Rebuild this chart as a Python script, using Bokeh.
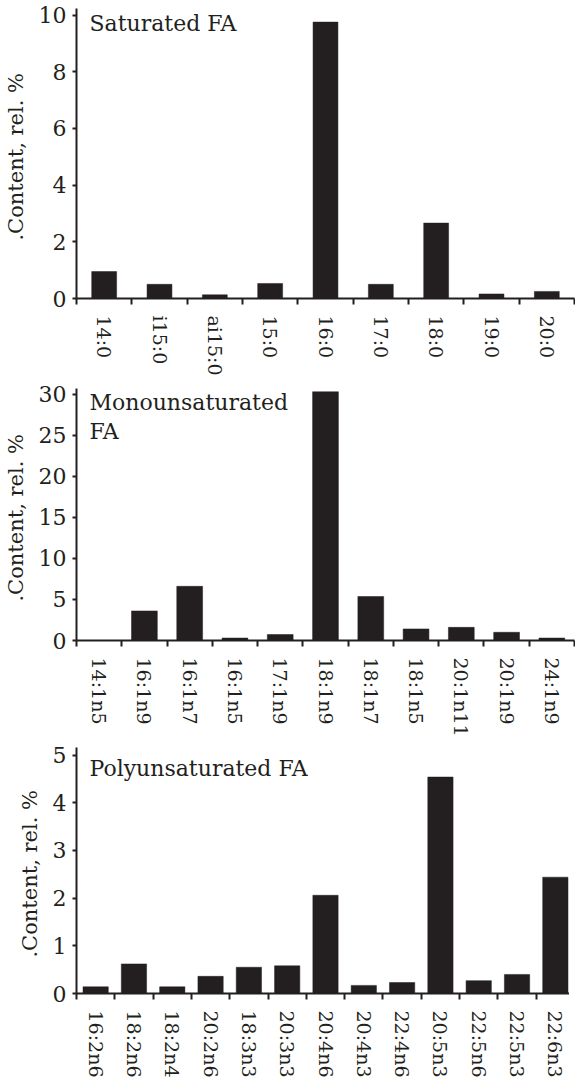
import numpy as np
from bokeh.plotting import figure
from bokeh.layouts import column
from bokeh.models import FixedTicker, Range1d, Label
from bokeh.embed import file_html
from bokeh.resources import INLINE

# ---- data ----
sat_names = ["14:0", "i15:0", "ai15:0", "15:0", "16:0", "17:0", "18:0", "19:0", "20:0"]
sat_vals = [0.95, 0.5, 0.13, 0.53, 9.75, 0.5, 2.66, 0.16, 0.25]
sat_ticks = [0, 2, 4, 6, 8, 10]

mono_names = ["14:1n5", "16:1n9", "16:1n7", "16:1n5", "17:1n9", "18:1n9", "18:1n7",
              "18:1n5", "20:1n11", "20:1n9", "24:1n9"]
mono_vals = [0.0, 3.6, 6.6, 0.3, 0.73, 30.3, 5.36, 1.41, 1.6, 1.0, 0.3]
mono_ticks = [0, 5, 10, 15, 20, 25, 30]

poly_names = ["16:2n6", "18:2n6", "18:2n4", "20:2n6", "18:3n3", "20:3n3", "20:4n6",
              "20:4n3", "22:4n6", "20:5n3", "22:5n6", "22:5n3", "22:6n3"]
poly_vals = [0.14, 0.62, 0.14, 0.36, 0.55, 0.58, 2.06, 0.17, 0.23, 4.54, 0.27, 0.4, 2.44]
poly_ticks = [0, 1, 2, 3, 4, 5]

INK = "#231f20"
FONT = "DejaVu Serif"


def panel(names, vals, yticks, ytop, title_lines, bar_w, frame_h, top, bottom, title_dy):
    n = len(names)
    centers = list(np.arange(n) + 0.5)
    bounds = list(np.arange(n + 1).astype(float))
    p = figure(frame_width=498, frame_height=frame_h, output_backend="svg",
               toolbar_location=None, x_range=Range1d(0, n), y_range=Range1d(0, ytop),
               min_border_left=70, min_border_right=1, min_border_top=top,
               min_border_bottom=bottom)
    p.vbar(x=centers, top=vals, width=bar_w, bottom=0, fill_color=INK, line_color=INK,
           line_width=0.5)
    p.grid.visible = False
    p.outline_line_color = None
    p.background_fill_color = "white"
    p.border_fill_color = "white"

    xa = p.xaxis[0]
    xa.ticker = FixedTicker(ticks=centers, minor_ticks=bounds)
    xa.major_label_overrides = {c: nm for c, nm in zip(centers, names)}
    xa.major_label_orientation = "vertical"
    xa.major_tick_line_color = None
    xa.major_tick_out = 0
    xa.major_tick_in = 0
    xa.minor_tick_line_color = INK
    xa.minor_tick_line_width = 2
    xa.minor_tick_out = 6
    xa.minor_tick_in = 0
    xa.major_label_standoff = 11
    xa.major_label_text_font = FONT
    xa.major_label_text_font_size = "19px"
    xa.major_label_text_color = INK
    xa.axis_line_color = INK
    xa.axis_line_width = 2

    ya = p.yaxis[0]
    ya.ticker = FixedTicker(ticks=yticks)
    ya.minor_tick_line_color = None
    ya.major_tick_line_color = INK
    ya.major_tick_line_width = 2
    ya.major_tick_out = 4
    ya.major_tick_in = 0
    ya.major_label_standoff = 6
    ya.major_label_text_font = FONT
    ya.major_label_text_font_size = "22px"
    ya.major_label_text_color = INK
    ya.axis_line_color = INK
    ya.axis_line_width = 2
    ya.axis_label = ".Content, rel.  %"
    ya.axis_label_text_font = FONT
    ya.axis_label_text_font_style = "normal"
    ya.axis_label_text_font_size = "21px"
    ya.axis_label_text_color = INK
    ya.axis_label_standoff = 8

    for i, line in enumerate(title_lines):
        p.add_layout(Label(x=0, y=ytop, x_offset=13, y_offset=-title_dy - 29 * i,
                           text=line, text_font=FONT, text_font_size="22px",
                           text_color=INK, text_baseline="top", text_align="left"))
    return p


p1 = panel(sat_names, sat_vals, sat_ticks, 10.23, ["Saturated FA"], 0.45, 290, 8, 80, 2)
p2 = panel(mono_names, mono_vals, mono_ticks, 30.7, ["Monounsaturated", "FA"], 0.57, 252, 10, 88, 1)
p3 = panel(poly_names, poly_vals, poly_ticks, 5.16, ["Polyunsaturated FA"], 0.66, 246, 8, 80, 8)

layout = column(p1, p2, p3, spacing=0)
open("out.html", "w").write(file_html(layout, INLINE))
